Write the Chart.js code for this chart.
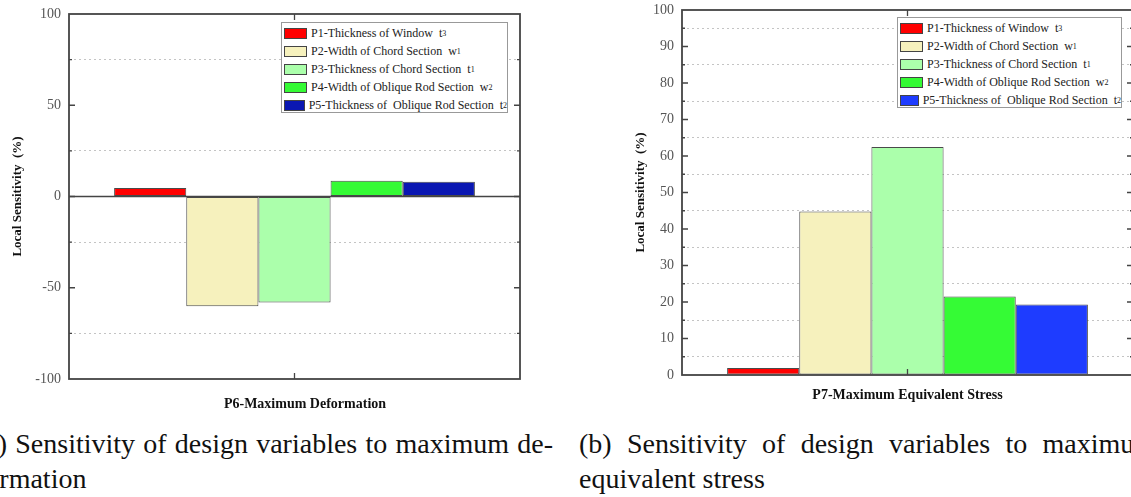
<!DOCTYPE html>
<html>
<head>
<meta charset="utf-8">
<script src="https://cdn.jsdelivr.net/npm/chart.js@4/dist/chart.umd.min.js"></script>
<style>
  html, body { margin: 0; padding: 0; background: #fff; }
  body { width: 1131px; height: 497px; overflow: hidden; position: relative; font-family: "Liberation Serif", "Times New Roman", Tinos, "DejaVu Serif", serif; }
  .panel { position: absolute; top: 0; }
  .legend { position: absolute; border: 1px solid #999; background: #fff; padding: 1px 0 0 2px; box-sizing: border-box; }
  .legend .row { height: 18px; display: flex; align-items: center; font-size: 12px; color: #222; white-space: pre; }
  .legend .sw { width: 23px; height: 11px; border: 1px solid #444; margin-right: 4px; box-sizing: border-box; }
  .legend sub { font-size: 8px; vertical-align: -3px; }
  .cap { position: absolute; font-size: 28px; line-height: 35px; color: #111; white-space: nowrap; }
  .just { text-align: justify; text-align-last: justify; white-space: normal; }
</style>
</head>
<body>
<div class="panel" style="left:0;width:560px;height:413px"><canvas id="chartA"></canvas></div>
<div class="panel" style="left:570px;width:600px;height:404px"><canvas id="chartB"></canvas></div>
<div id="legendA" class="legend" style="left:281px;top:22px;width:227px;height:91px"></div>
<div id="legendB" class="legend" style="left:897px;top:17px;width:225px;height:91px"></div>

<div class="cap just" style="left:-24px;top:426px;width:577px">(a) Sensitivity of design variables to maximum de-</div>
<div class="cap" style="left:-24px;top:461px">formation</div>
<div class="cap just" style="left:579px;top:426px;width:577px">(b) Sensitivity of design variables to maximum</div>
<div class="cap" style="left:579px;top:461px">equivalent stress</div>

<script>
const serif = '"Liberation Serif", "Times New Roman", Tinos, "DejaVu Serif", serif';

// parameter names (legend), symbol + subscript
const names = [
  "P1-Thickness of Window",
  "P2-Width of Chord Section",
  "P3-Thickness of Chord Section",
  "P4-Width of Oblique Rod Section",
  "P5-Thickness of  Oblique Rod Section"
];
const symbols = ["t", "w", "t", "w", "t"];
const subs = ["3", "1", "1", "2", "2"];

// sensitivities (%)
const deformation = [4.6, -60.2, -58.1, 8.6, 8.1];
const stress = [1.9, 44.8, 62.5, 21.5, 19.3];

const colorsA = ["#ff0000", "#f6f1bd", "#abffab", "#35fb35", "#0a17b2"];
const colorsB = ["#ff0000", "#f6f1bd", "#abffab", "#35fb35", "#1e3cff"];

const yTicksA = { min: -100, max: 100, step: 25, major: 50 };
const yTicksB = { min: 0, max: 100, step: 5, major: 10 };

const frame = {
  id: "frame",
  afterDatasetsDraw(chart, args, opts) {
    const { ctx, chartArea: a, scales } = chart;
    const y = scales.y;
    ctx.save();
    ctx.strokeStyle = "#444";
    ctx.lineWidth = 1.5;
    if (opts.zero && y.min < 0) {
      const py = y.getPixelForValue(0);
      ctx.beginPath();
      ctx.moveTo(a.left, py);
      ctx.lineTo(a.right, py);
      ctx.stroke();
    }
    ctx.lineWidth = 1.3;
    ctx.beginPath();
    y.ticks.forEach((t) => {
      if (t.value === y.min || t.value === y.max) return;
      const py = y.getPixelForValue(t.value);
      const len = t.value % opts.major === 0 ? 6 : 3;
      ctx.moveTo(a.left, py); ctx.lineTo(a.left + len, py);
      ctx.moveTo(a.right, py); ctx.lineTo(a.right - len, py);
    });
    const cx = (a.left + a.right) / 2;
    ctx.moveTo(cx, a.top); ctx.lineTo(cx, a.top + 6);
    ctx.moveTo(cx, a.bottom); ctx.lineTo(cx, a.bottom - 6);
    ctx.stroke();
    ctx.lineWidth = 1.8;
    ctx.strokeRect(a.left, a.top, a.right - a.left, a.bottom - a.top);
    ctx.restore();
  }
};

function makeChart(id, values, colors, yt, xTitle, g) {
  const ctx = document.getElementById(id).getContext("2d");
  return new Chart(ctx, {
    type: "bar",
    data: {
      labels: [""],
      datasets: values.map((v, i) => ({
        label: names[i] + " " + symbols[i] + subs[i],
        data: [v],
        backgroundColor: colors[i],
        borderColor: "#4a4a4a",
        borderWidth: 1,
        borderSkipped: false,
        categoryPercentage: 0.8,
        barPercentage: 1.0
      }))
    },
    options: {
      responsive: true,
      maintainAspectRatio: false,
      animation: false,
      layout: { padding: g.pad },
      plugins: {
        legend: { display: false },
        tooltip: { enabled: false },
        frame: { zero: yt.min < 0, major: yt.major }
      },
      scales: {
        x: {
          grid: { display: false },
          border: { display: false },
          ticks: { display: false },
          title: {
            display: true,
            text: xTitle,
            color: "#111",
            font: { family: serif, size: 14, weight: "bold" },
            padding: { top: 0, bottom: 0 }
          },
          afterFit: (s) => { s.height = g.xh; s.paddingLeft = 0; s.paddingRight = 0; }
        },
        y: {
          min: yt.min,
          max: yt.max,
          grid: {
            drawTicks: false,
            color: (c) => (c.tick && c.tick.value % yt.major !== 0 ? "#c4c4c4" : "rgba(0,0,0,0)"),
            lineWidth: 1
          },
          border: { display: false, dash: [2, 3] },
          ticks: {
            stepSize: yt.step,
            autoSkip: false,
            padding: 8,
            color: "#555",
            font: { family: serif, size: 14 },
            callback: (v) => (v % yt.major === 0 ? String(v) : "")
          },
          title: {
            display: true,
            text: "Local Sensitivity  (%)",
            color: "#111",
            font: { family: serif, size: 13, weight: "bold" },
            padding: { top: 4, bottom: 4 }
          },
          afterFit: (s) => { s.width = g.yw; s.paddingTop = 0; s.paddingBottom = 0; }
        }
      }
    },
    plugins: [frame]
  });
}

function buildLegend(chart, boxId) {
  const box = document.getElementById(boxId);
  chart.data.datasets.forEach((ds, i) => {
    const row = document.createElement("div");
    row.className = "row";
    row.innerHTML =
      '<span class="sw" style="background:' + ds.backgroundColor + '"></span>' +
      names[i] + "  " + symbols[i] + "<sub>" + subs[i] + "</sub>";
    box.appendChild(row);
  });
}

const chartA = makeChart("chartA", deformation, colorsA, yTicksA, "      P6-Maximum Deformation",
  { pad: { left: 6, top: 14, right: 40, bottom: 0 }, yw: 63, xh: 34 });
const chartB = makeChart("chartB", stress, colorsB, yTicksB, "P7-Maximum Equivalent Stress",
  { pad: { left: 59, top: 10, right: 37, bottom: 0 }, yw: 53, xh: 29 });

buildLegend(chartA, "legendA");
buildLegend(chartB, "legendB");
</script>
</body>
</html>
